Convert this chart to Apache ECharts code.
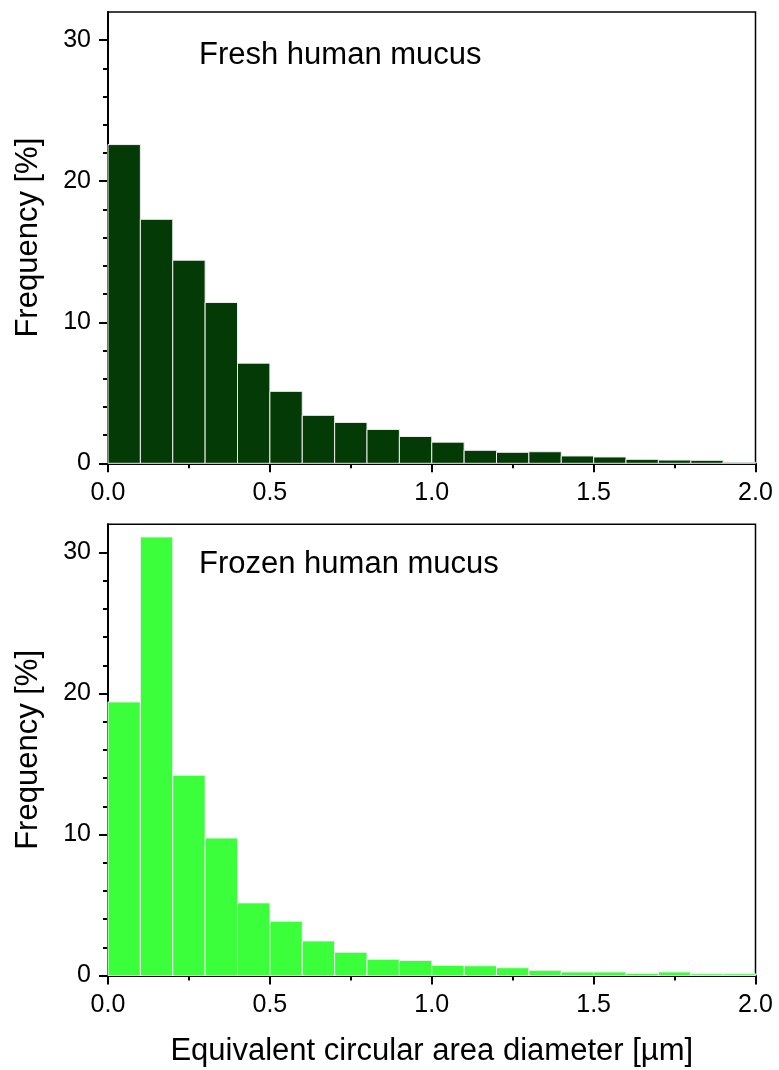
<!DOCTYPE html>
<html>
<head>
<meta charset="utf-8">
<script src="https://cdn.jsdelivr.net/npm/echarts@6/dist/echarts.min.js"></script>
<style>
  html, body { margin: 0; padding: 0; background: #fff; }
  #chart { width: 779px; height: 1070px; }
</style>
</head>
<body>
<div id="chart"></div>
<script>
// histogram bins (left edge, µm), width 0.1
const binStarts = [0.0, 0.1, 0.2, 0.3, 0.4, 0.5, 0.6, 0.7, 0.8, 0.9,
                   1.0, 1.1, 1.2, 1.3, 1.4, 1.5, 1.6, 1.7, 1.8, 1.9]
const binWidth = 0.1

const freshFreq = [22.6, 17.3, 14.4, 11.4, 7.1, 5.1, 3.4, 2.9, 2.4, 1.9,
                   1.5, 0.92, 0.78, 0.82, 0.52, 0.45, 0.28, 0.23, 0.21, 0.07]
const frozenFreq = [19.4, 31.1, 14.2, 9.75, 5.15, 3.85, 2.45, 1.65, 1.15, 1.07,
                    0.71, 0.69, 0.55, 0.37, 0.25, 0.25, 0.14, 0.25, 0.12, 0.12]

const yMajorTicks = [0, 10, 20, 30]
const yMinorTicks = [2, 4, 6, 8, 12, 14, 16, 18, 22, 24, 26, 28]

const FONT = '"Liberation Sans", Arial, sans-serif'

function histData(values) {
  return binStarts.map((s, i) => [s, s + binWidth, values[i]])
}

function renderBar(color) {
  return function (params, api) {
    const p0 = api.coord([api.value(0), 0])
    const p1 = api.coord([api.value(1), api.value(2)])
    return {
      type: 'rect',
      shape: { x: p0[0], y: p1[1], width: p1[0] - p0[0], height: p0[1] - p1[1] },
      style: { fill: color, stroke: '#eeeeee', lineWidth: 1 }
    }
  }
}

function xAxisFor(gridIndex, withName) {
  return {
    type: 'value',
    gridIndex: gridIndex,
    min: 0,
    max: 2,
    interval: 0.5,
    name: withName ? 'Equivalent circular area diameter [µm]' : '',
    nameLocation: 'middle',
    nameGap: 60,
    nameTextStyle: { fontFamily: FONT, fontSize: 31, color: '#000' },
    axisLine: { show: true, lineStyle: { color: '#000', width: 2 } },
    axisTick: { show: true, inside: false, length: 9, lineStyle: { color: '#000', width: 2 } },
    minorTick: { show: true, splitNumber: 2, length: 5, lineStyle: { color: '#000', width: 2 } },
    axisLabel: {
      margin: 17,
      fontFamily: FONT,
      fontSize: 25,
      color: '#000',
      formatter: v => v.toFixed(1)
    },
    splitLine: { show: false }
  }
}

function yAxesFor(gridIndex) {
  return [
    {
      type: 'value',
      gridIndex: gridIndex,
      position: 'left',
      min: 0,
      max: 32,
      interval: 10,
      name: 'Frequency [%]',
      nameLocation: 'middle',
      nameGap: 64,
      nameTextStyle: { fontFamily: FONT, fontSize: 31, color: '#000' },
      axisLine: { show: true, lineStyle: { color: '#000', width: 2 } },
      axisTick: { show: true, length: 9, customValues: yMajorTicks, lineStyle: { color: '#000', width: 2 } },
      axisLabel: { margin: 17, fontFamily: FONT, fontSize: 25, color: '#000', customValues: yMajorTicks },
      splitLine: { show: false }
    },
    {
      type: 'value',
      gridIndex: gridIndex,
      position: 'left',
      min: 0,
      max: 32,
      interval: 2,
      axisLine: { show: false },
      axisTick: { show: true, length: 5, customValues: yMinorTicks, lineStyle: { color: '#000', width: 2 } },
      axisLabel: { show: false },
      splitLine: { show: false }
    }
  ]
}

const chart = echarts.init(document.getElementById('chart'), null, { renderer: 'canvas' })

chart.setOption({
  backgroundColor: '#ffffff',
  animation: false,
  grid: [
    { left: 108, top: 12, width: 647.5, height: 451.3, show: true, borderColor: '#000', borderWidth: 1.5, backgroundColor: 'transparent' },
    { left: 108, top: 524.3, width: 647.5, height: 451.2, show: true, borderColor: '#000', borderWidth: 1.5, backgroundColor: 'transparent' }
  ],
  xAxis: [xAxisFor(0, false), xAxisFor(1, true)],
  yAxis: yAxesFor(0).concat(yAxesFor(1)),
  graphic: [
    { type: 'text', x: 199, y: 55.5, style: { text: 'Fresh human mucus', font: '31px ' + FONT, fill: '#000', verticalAlign: 'middle' } },
    { type: 'text', x: 199, y: 564.5, style: { text: 'Frozen human mucus', font: '31px ' + FONT, fill: '#000', verticalAlign: 'middle' } }
  ],
  series: [
    {
      name: 'Fresh human mucus',
      type: 'custom',
      xAxisIndex: 0,
      yAxisIndex: 0,
      renderItem: renderBar('#043a06'),
      encode: { x: [0, 1], y: 2 },
      data: histData(freshFreq),
      z: 1
    },
    {
      name: 'Frozen human mucus',
      type: 'custom',
      xAxisIndex: 1,
      yAxisIndex: 2,
      renderItem: renderBar('#3bff3b'),
      encode: { x: [0, 1], y: 2 },
      data: histData(frozenFreq),
      z: 1
    }
  ]
})
</script>
</body>
</html>
